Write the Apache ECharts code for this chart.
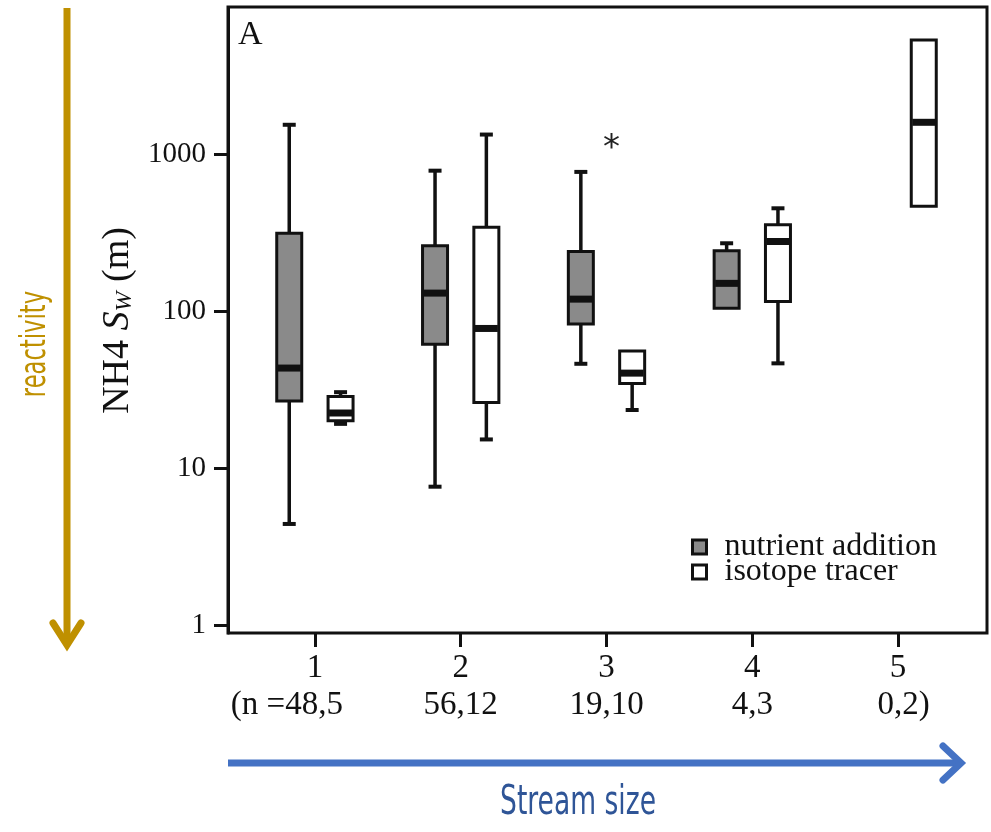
<!DOCTYPE html>
<html>
<head>
<meta charset="utf-8">
<script src="https://cdn.jsdelivr.net/npm/echarts@6/dist/echarts.min.js"></script>
<style>
  html, body { margin: 0; padding: 0; background: #fff; }
  #chart { width: 991px; height: 832px; }
</style>
</head>
<body>
<div id="chart"></div>
<script>
// stream size classes and sample sizes (nutrient, isotope)
const categories = ['1', '2', '3', '4', '5'];
const sampleSizes = ['48,5', '56,12', '19,10', '4,3', '0,2'];
const yTicks = [1, 10, 100, 1000];

// [class index, min, Q1, median, Q3, max]  NH4 Sw in m
const nutrientBoxes = [
  [0, 4.4, 26.7, 43.3, 313, 1535],
  [1, 7.6, 61.3, 130, 260, 783],
  [2, 46.1, 82.6, 119, 239, 769],
  [3, 104, 104, 150, 242, 270],
];
const isotopeBoxes = [
  [0, 19.1, 20.0, 22.4, 28.5, 30.4],
  [1, 15.2, 26.1, 77.4, 341, 1330],
  [2, 23.4, 34.5, 40.2, 55.7, 55.7],
  [3, 46.4, 115, 277, 354, 451],
  [4, 465, 465, 1592, 5320, 5320],
];
// extreme value (*)
const outliers = [[2, 1117]];

const INK = '#111';
const SERIF = "'Liberation Serif', 'Times New Roman', serif";
const NARROW = "'Liberation Sans Narrow', 'DejaVu Sans Condensed', 'Open Sans', sans-serif";

function boxRenderer(side, fill) {
  return function (params, api) {
    const idx = api.value(0);
    const band = api.size([1, 0])[0];
    const cx = api.coord([idx, api.value(3)])[0] + side * band * 0.176;
    const yAt = (k) => api.coord([idx, api.value(k)])[1];
    const yMin = yAt(1), yQ1 = yAt(2), yMed = yAt(3), yQ3 = yAt(4), yMax = yAt(5);
    const hw = 12.5, cap = 6.5;
    const line = (x1, y1, x2, y2, w) => ({
      type: 'line', shape: { x1, y1, x2, y2 }, style: { stroke: INK, lineWidth: w },
    });
    const children = [];
    if (yMax < yQ3 - 1) children.push(line(cx, yQ3, cx, yMax, 3.5), line(cx - cap, yMax, cx + cap, yMax, 4));
    if (yMin > yQ1 + 1) children.push(line(cx, yQ1, cx, yMin, 3.5), line(cx - cap, yMin, cx + cap, yMin, 4));
    children.push({
      type: 'rect', shape: { x: cx - hw, y: yQ3, width: hw * 2, height: yQ1 - yQ3 },
      style: { fill, stroke: INK, lineWidth: 3 },
    });
    children.push(line(cx - hw + 1, yMed, cx + hw - 1, yMed, 7));
    return { type: 'group', children };
  };
}

// "(n =" and ")" hang outside so the counts stay centred on the ticks
function xLabel(v, i) {
  let second = sampleSizes[i];
  if (i === 0) second = '{t|(n =}{t|' + second + '}{padL|}';
  else if (i === sampleSizes.length - 1) second = '{padS|}{t|' + second + ')}';
  else second = '{t|' + second + '}';
  return '{t|' + v + '}\n' + second;
}

const chart = echarts.init(document.getElementById('chart'), null, { renderer: 'canvas' });
chart.setOption({
  backgroundColor: '#fff',
  animation: false,
  grid: { left: 242, right: 20, top: 8, bottom: 199 },
  legend: {
    data: [
      { name: 'nutrient addition', itemStyle: { color: '#8a8a8a', borderColor: INK, borderWidth: 3 } },
      { name: 'isotope tracer', itemStyle: { color: '#fff', borderColor: INK, borderWidth: 3 } },
    ],
    orient: 'vertical', left: 691, top: 531, padding: 0,
    icon: 'rect', itemWidth: 14, itemHeight: 14, itemGap: -7,
    selectedMode: false,
    textStyle: { fontFamily: SERIF, fontSize: 32, color: INK, padding: [0, 0, 0, 13] },
  },
  xAxis: {
    type: 'category',
    data: categories,
    boundaryGap: true,
    axisLine: { show: false },
    axisTick: { show: true, alignWithLabel: true, interval: 0, length: 14, lineStyle: { color: INK, width: 3 } },
    axisLabel: {
      interval: 0, hideOverlap: false,
      margin: 17, color: INK, fontFamily: SERIF, fontSize: 33, lineHeight: 37,
      formatter: xLabel,
      rich: {
        t: { fontFamily: SERIF, fontSize: 33, color: INK, lineHeight: 37 },
        padL: { width: 56, lineHeight: 37 },
        padS: { width: 11, lineHeight: 37 },
      },
    },
  },
  yAxis: {
    type: 'log',
    logBase: 10,
    min: 0.889,
    max: 8511,
    offset: 14,
    axisLine: { show: true, lineStyle: { color: INK, width: 3 } },
    axisTick: { show: true, length: 14, customValues: yTicks, lineStyle: { color: INK, width: 3 } },
    axisLabel: { customValues: yTicks, margin: 22, color: INK, fontFamily: SERIF, fontSize: 29, formatter: (v) => String(v) },
    splitLine: { show: false },
    name: '{n|NH4 }{s|S}{w|W}{n| (m)}',
    nameLocation: 'middle',
    nameGap: 88,
    nameRotate: 90,
    nameTextStyle: {
      rich: {
        n: { fontFamily: SERIF, fontSize: 38, color: INK },
        s: { fontFamily: SERIF, fontSize: 38, color: INK, fontStyle: 'italic' },
        w: { fontFamily: SERIF, fontSize: 24, color: INK, fontStyle: 'italic', padding: [15, 0, 0, 0] },
      },
    },
  },
  series: [
    {
      name: 'nutrient addition', type: 'custom',
      renderItem: boxRenderer(-1, '#8a8a8a'),
      encode: { x: 0, y: [1, 2, 3, 4, 5] },
      data: nutrientBoxes,
    },
    {
      name: 'isotope tracer', type: 'custom',
      renderItem: boxRenderer(1, '#fff'),
      encode: { x: 0, y: [1, 2, 3, 4, 5] },
      data: isotopeBoxes,
    },
    {
      name: 'outlier', type: 'custom',
      renderItem: (params, api) => {
        const p = api.coord([api.value(0), api.value(1)]);
        return {
          type: 'text', x: p[0] + 5, y: p[1] + 3,
          style: { text: '*', fontFamily: "'DejaVu Sans', sans-serif", fontSize: 34, fill: '#222', align: 'center', verticalAlign: 'middle' },
        };
      },
      encode: { x: 0, y: 1 },
      data: outliers,
    },
  ],
  graphic: [
    // plot frame
    { type: 'rect', shape: { x: 228, y: 7, width: 759, height: 626 }, style: { fill: null, stroke: INK, lineWidth: 3 }, z: 10 },
    { type: 'text', x: 238, y: 18, style: { text: 'A', fontFamily: SERIF, fontSize: 34, fill: INK } },
    // reactivity arrow
    { type: 'line', shape: { x1: 67, y1: 8, x2: 67, y2: 644 }, style: { stroke: '#BF9000', lineWidth: 7 } },
    { type: 'polyline', shape: { points: [[53, 623], [67, 645], [81, 623]] }, style: { stroke: '#BF9000', lineWidth: 7, lineCap: 'round', fill: null } },
    { type: 'text', x: 36, y: 344, rotation: Math.PI / 2, scaleX: 0.72, style: { text: 'reactivity', fontFamily: NARROW, fontSize: 35, fill: '#BF9000', align: 'center', verticalAlign: 'middle' } },
    // stream size arrow
    { type: 'line', shape: { x1: 228, y1: 763, x2: 960, y2: 763 }, style: { stroke: '#4472C4', lineWidth: 7 } },
    { type: 'polyline', shape: { points: [[943, 746], [961, 763], [943, 780]] }, style: { stroke: '#4472C4', lineWidth: 7, lineCap: 'round', fill: null } },
    { type: 'text', x: 578, y: 803, scaleX: 0.72, style: { text: 'Stream size', fontFamily: NARROW, fontSize: 41, fill: '#2F5597', align: 'center', verticalAlign: 'middle' } },
  ],
});
</script>
</body>
</html>
